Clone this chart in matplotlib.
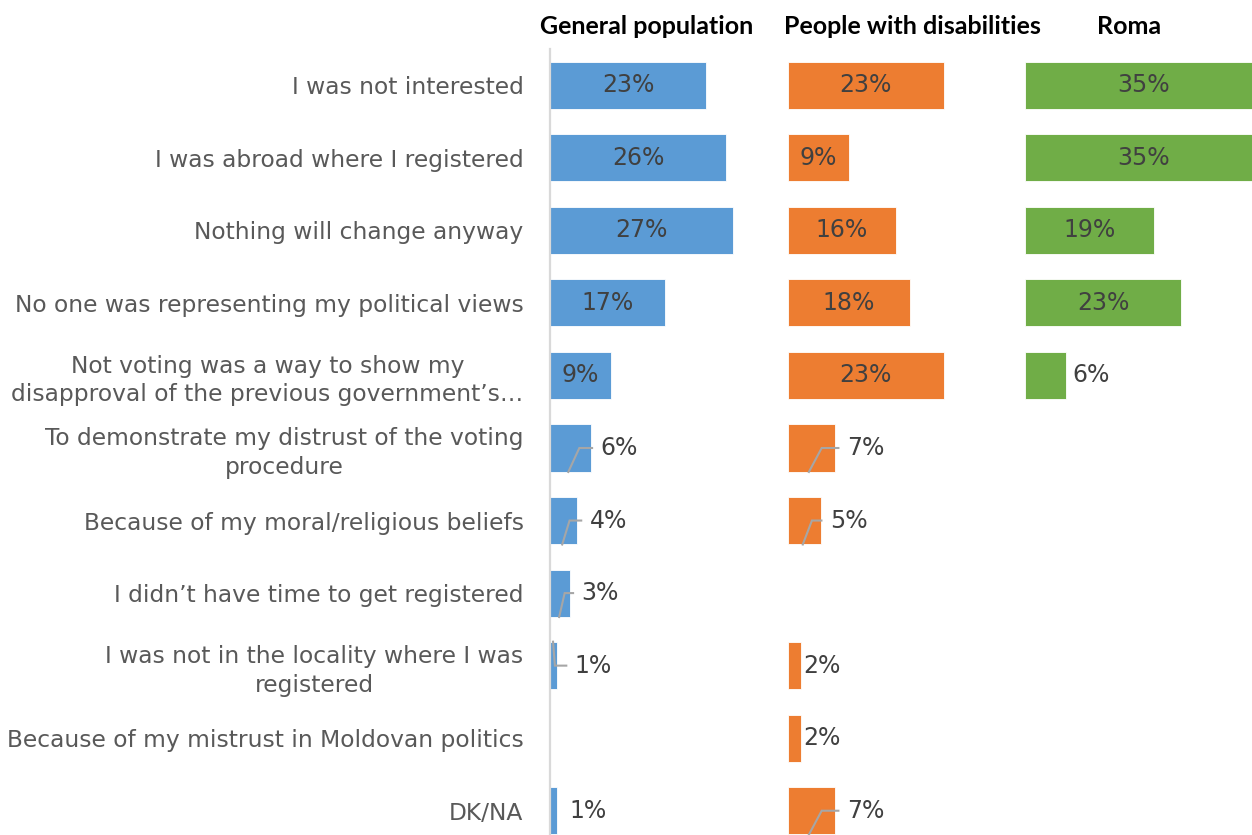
import matplotlib.pyplot as plt

# reasons for not voting, share of respondents per group (%)
reasons = [
    "I was not interested",
    "I was abroad where I registered",
    "Nothing will change anyway",
    "No one was representing my political views",
    "Not voting was a way to show my\ndisapproval of the previous government’s…",
    "To demonstrate my distrust of the voting\nprocedure",
    "Because of my moral/religious beliefs",
    "I didn’t have time to get registered",
    "I was not in the locality where I was\nregistered",
    "Because of my mistrust in Moldovan politics",
    "DK/NA",
]
groups = ["General population", "People with disabilities", "Roma"]
general = [23, 26, 27, 17, 9, 6, 4, 3, 1, None, 1]
disabled = [23, 9, 16, 18, 23, 7, 5, None, 2, 2, 7]
roma = [35, 35, 19, 23, 6, None, None, None, None, None, None]

colors = ["#5B9BD5", "#ED7D31", "#70AD47"]

# rows whose outside label is tied to the bar by a leader line:
# row -> (direction, extra gap before the label)
leaders = [{5: ("down", 0.2), 6: ("down", 0.6), 7: ("down", 0.4), 8: ("up", 1.4)},
           {5: ("down", 0.5), 6: ("down", 0.0), 10: ("down", 0.5)},
           {}]
plain_pad = [1.8, 0.3, 1.0]

W, H = 1252, 835
fig = plt.figure(figsize=(W / 100, H / 100), dpi=100)

panel_left = [550, 787.5, 1025]
panel_w = 237.5
ax_bottom, ax_top = 847, 49

for k, (name, vals) in enumerate(zip(groups, [general, disabled, roma])):
    ax = fig.add_axes([panel_left[k] / W, (H - ax_bottom) / H,
                       panel_w / W, (ax_bottom - ax_top) / H])
    rows = [i for i, v in enumerate(vals) if v is not None]
    widths = [vals[i] for i in rows]
    ax.barh(rows, widths, height=0.65, color=colors[k],
            edgecolor="white", linewidth=0.6)
    ax.set_xlim(0, 35)
    ax.set_ylim(len(reasons) - 0.5, -0.5)
    ax.set_xticks([])
    for s in ["top", "right", "bottom"]:
        ax.spines[s].set_visible(False)
    if k == 0:
        ax.spines["left"].set_color("#d9d9d9")
        ax.spines["left"].set_linewidth(1.6)
        ax.set_yticks(range(len(reasons)))
        ax.set_yticklabels(reasons, fontsize=16.8, color="#595959")
        ax.tick_params(axis="y", length=0, pad=19)
        for t in ax.get_yticklabels():
            t.set_multialignment("center")
            t.set_linespacing(1.3)
    else:
        ax.spines["left"].set_visible(False)
        ax.set_yticks([])

    for i in rows:
        v = vals[i]
        label = f"{v}%"
        if v >= 9:
            ax.text(v / 2, i, label, ha="center", va="center",
                    fontsize=17, color="#404040")
            continue
        if i in leaders[k]:
            direction, extra = leaders[k][i]
            end = v + extra
            y0 = i + 0.33 if direction == "down" else i - 0.33
            ax.plot([v * 0.45, v * 0.72, end], [y0, i, i],
                    color="#a6a6a6", lw=1.5, solid_joinstyle="miter")
            ax.text(end + 1.25, i, label, ha="left", va="center",
                    fontsize=17, color="#404040")
        else:
            ax.text(v + plain_pad[k], i, label, ha="left", va="center",
                    fontsize=17, color="#404040")

# panel headings
title_x = [647, 912, 1129]
for name, x in zip(groups, title_x):
    fig.text(x / W, 1 - 26 / H, name, ha="center", va="center",
             fontsize=18, fontweight="bold", family="Lato", color="black")

fig.savefig("out.png", dpi=100)
